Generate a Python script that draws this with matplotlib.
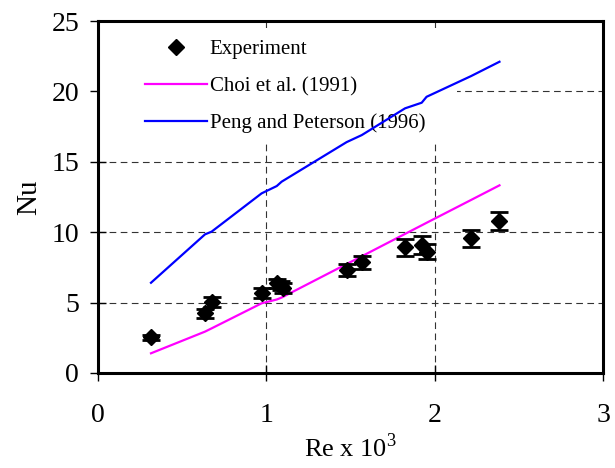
import matplotlib
matplotlib.use("Agg")
import matplotlib.pyplot as plt
from matplotlib.lines import Line2D
from matplotlib.patches import Rectangle

# experimental data (Re x 10^3, Nu, error)
re_exp = [0.315, 0.636, 0.675, 0.972, 1.062, 1.085, 1.101, 1.477, 1.567, 1.824, 1.923, 1.952, 2.216, 2.385]
nu_exp = [2.53, 4.24, 5.07, 5.71, 6.37, 6.20, 6.01, 7.32, 7.86, 8.92, 9.09, 8.62, 9.56, 10.82]
nu_err = [0.2, 0.3, 0.35, 0.35, 0.3, 0.3, 0.35, 0.45, 0.45, 0.63, 0.65, 0.55, 0.62, 0.65]

# correlations
re_model = [0.315, 0.636, 0.675, 0.972, 1.062, 1.091, 1.477, 1.567, 1.824, 1.923, 1.952, 2.216, 2.385]
nu_choi = [1.40, 2.94, 3.17, 4.95, 5.22, 5.36, 7.74, 8.29, 9.88, 10.49, 10.67, 12.29, 13.33]
nu_peng = [6.41, 9.85, 10.04, 12.76, 13.28, 13.59, 16.40, 16.90, 18.80, 19.20, 19.62, 21.09, 22.11]

plt.rcParams['font.family'] = ['Liberation Serif', 'DejaVu Serif']

fig = plt.figure(figsize=(6.15, 4.68), dpi=100)
ax = fig.add_axes([0.1593, 0.203, 0.8212, 0.752])

ax.plot(re_model, nu_choi, color='#ff00ff', lw=1.6, zorder=3)
ax.plot(re_model, nu_peng, color='#0000ff', lw=1.6, zorder=3)
ax.errorbar(re_exp, nu_exp, yerr=nu_err, fmt='D', color='black', ms=8.5,
            elinewidth=1.6, capsize=6.5, capthick=2.0, zorder=4)

ax.set_xlim(0, 3)
ax.set_ylim(0, 25)
ax.set_xticks([0, 1, 2, 3])
ax.set_yticks([0, 5, 10, 15, 20, 25])
ax.grid(True, color='#333333', lw=0.8, linestyle=(0, (6, 4)))
ax.set_axisbelow(True)

for s in ax.spines.values():
    s.set_linewidth(2.2)
ax.tick_params(direction='inout', length=11, width=1, labelsize=20)
ax.tick_params(axis='x', pad=16)
ax.tick_params(axis='y', pad=8)

ax.set_xlabel('Re x 10$^{\\mathregular{3}}$', fontsize=19, labelpad=4)
ax.set_ylabel('Nu', fontsize=21, labelpad=7)

# white box behind legend (covers grid, lines go over it)
ax.add_patch(Rectangle((0, 0.653), 0.711, 0.327, transform=ax.transAxes,
                       facecolor='white', edgecolor='none', zorder=2))

handles = [
    Line2D([], [], marker='D', ms=8.5, color='black', linestyle='none'),
    Line2D([], [], color='#ff00ff', lw=1.6),
    Line2D([], [], color='#0000ff', lw=1.6),
]
labels = ['Experiment', 'Choi et al. (1991)', 'Peng and Peterson (1996)']
leg = ax.legend(handles, labels, loc='upper left', bbox_to_anchor=(0.093, 0.948),
                fontsize=15, frameon=False, handlelength=3.0, handletextpad=0.1,
                labelspacing=0.84, borderpad=0, borderaxespad=0)
leg.set_zorder(2.5)

fig.savefig('out.png', dpi=100)
